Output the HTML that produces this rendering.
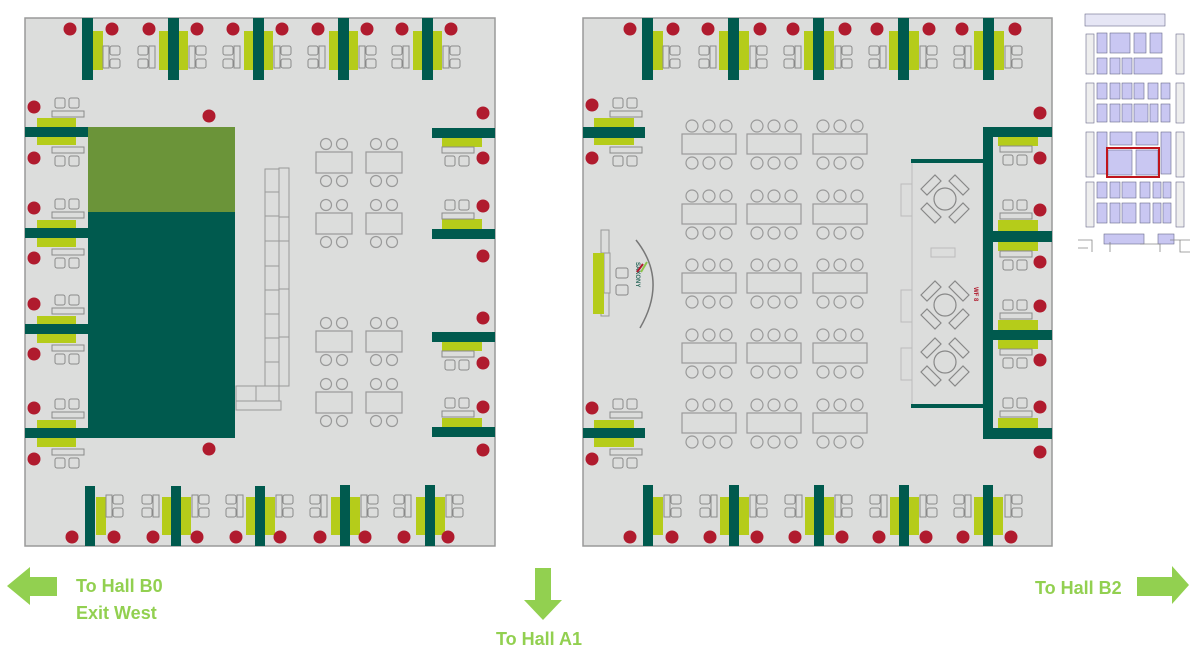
<!DOCTYPE html>
<html><head><meta charset="utf-8"><style>
html,body{margin:0;padding:0;background:#fff;width:1200px;height:655px;overflow:hidden}
svg{display:block}
.t{font-family:"Liberation Sans",sans-serif;font-weight:bold;font-size:18px;fill:#92d050}
</style></head><body>
<svg width="1200" height="655" viewBox="0 0 1200 655" xmlns="http://www.w3.org/2000/svg">
<defs>
 <g id="chR" fill="none" stroke="#8a8a8a" stroke-width="1">
  <rect x="0" y="0" width="6" height="22"/>
  <rect x="7" y="0" width="10" height="9" rx="2"/>
  <rect x="7" y="13" width="10" height="9" rx="2"/>
 </g>
 <g id="chL" fill="none" stroke="#8a8a8a" stroke-width="1">
  <rect x="11" y="0" width="6" height="22"/>
  <rect x="0" y="0" width="10" height="9" rx="2"/>
  <rect x="0" y="13" width="10" height="9" rx="2"/>
 </g>
 <g id="chD" fill="none" stroke="#8a8a8a" stroke-width="1">
  <rect x="0" y="0" width="32" height="6"/>
  <rect x="3" y="9" width="10" height="10" rx="2"/>
  <rect x="17" y="9" width="10" height="10" rx="2"/>
 </g>
 <g id="chU" fill="none" stroke="#8a8a8a" stroke-width="1">
  <rect x="3" y="0" width="10" height="10" rx="2"/>
  <rect x="17" y="0" width="10" height="10" rx="2"/>
  <rect x="0" y="13" width="32" height="6"/>
 </g>
 <g id="t4" fill="none" stroke="#999" stroke-width="1.2">
  <rect x="0" y="0" width="36" height="21"/>
  <circle cx="10" cy="-8" r="5.5"/><circle cx="26" cy="-8" r="5.5"/>
  <circle cx="10" cy="29" r="5.5"/><circle cx="26" cy="29" r="5.5"/>
 </g>
 <g id="t6" fill="none" stroke="#999" stroke-width="1.2">
  <rect x="0" y="0" width="54" height="20"/>
  <circle cx="10" cy="-8" r="6"/><circle cx="27" cy="-8" r="6"/><circle cx="44" cy="-8" r="6"/>
  <circle cx="10" cy="29" r="6"/><circle cx="27" cy="29" r="6"/><circle cx="44" cy="29" r="6"/>
 </g>
 <g id="x4" fill="none" stroke="#888" stroke-width="1.2">
  <circle cx="0" cy="0" r="11"/>
  <path d="M-24 -10 L-10 -24 L-4 -18 L-18 -4 Z"/>
  <path d="M24 -10 L10 -24 L4 -18 L18 -4 Z"/>
  <path d="M-24 10 L-10 24 L-4 18 L-18 4 Z"/>
  <path d="M24 10 L10 24 L4 18 L18 4 Z"/>
 </g>
 <circle id="rd" r="6.5" fill="#b01b2e"/>
</defs>

<!-- LEFT HALL -->
<rect x="25" y="18" width="470" height="528" fill="#dcdddc" stroke="#9a9a9a" stroke-width="1.5"/>
<!-- top booths -->
<g>
 <rect x="93" y="31" width="10" height="39" fill="#b5cc1a"/>
 <rect x="159" y="31" width="29" height="39" fill="#b5cc1a"/>
 <rect x="244" y="31" width="29" height="39" fill="#b5cc1a"/>
 <rect x="329" y="31" width="29" height="39" fill="#b5cc1a"/>
 <rect x="413" y="31" width="29" height="39" fill="#b5cc1a"/>
 <rect x="82" y="18" width="11" height="62" fill="#005a4e"/>
 <rect x="168" y="18" width="11" height="62" fill="#005a4e"/>
 <rect x="253" y="18" width="11" height="62" fill="#005a4e"/>
 <rect x="338" y="18" width="11" height="62" fill="#005a4e"/>
 <rect x="422" y="18" width="11" height="62" fill="#005a4e"/>
 <use href="#chR" x="103" y="46"/><use href="#chL" x="138" y="46"/><use href="#chR" x="189" y="46"/>
 <use href="#chL" x="223" y="46"/><use href="#chR" x="274" y="46"/><use href="#chL" x="308" y="46"/>
 <use href="#chR" x="359" y="46"/><use href="#chL" x="392" y="46"/><use href="#chR" x="443" y="46"/>
 <use href="#rd" x="70" y="29"/><use href="#rd" x="112" y="29"/><use href="#rd" x="149" y="29"/>
 <use href="#rd" x="197" y="29"/><use href="#rd" x="233" y="29"/><use href="#rd" x="282" y="29"/>
 <use href="#rd" x="318" y="29"/><use href="#rd" x="367" y="29"/><use href="#rd" x="402" y="29"/>
 <use href="#rd" x="451" y="29"/>
</g>
<!-- left side booths -->
<g>
 <rect x="37" y="118" width="39" height="27" fill="#b5cc1a"/>
 <rect x="37" y="220" width="39" height="27" fill="#b5cc1a"/>
 <rect x="37" y="316" width="39" height="27" fill="#b5cc1a"/>
 <rect x="37" y="420" width="39" height="27" fill="#b5cc1a"/>
 <rect x="25" y="127" width="63" height="10" fill="#005a4e"/>
 <rect x="25" y="228" width="63" height="10" fill="#005a4e"/>
 <rect x="25" y="324" width="63" height="10" fill="#005a4e"/>
 <rect x="25" y="428" width="63" height="10" fill="#005a4e"/>
 <use href="#chU" x="52" y="98"/><use href="#chD" x="52" y="147"/>
 <use href="#chU" x="52" y="199"/><use href="#chD" x="52" y="249"/>
 <use href="#chU" x="52" y="295"/><use href="#chD" x="52" y="345"/>
 <use href="#chU" x="52" y="399"/><use href="#chD" x="52" y="449"/>
 <use href="#rd" x="34" y="107"/><use href="#rd" x="34" y="158"/>
 <use href="#rd" x="34" y="208"/><use href="#rd" x="34" y="258"/>
 <use href="#rd" x="34" y="304"/><use href="#rd" x="34" y="354"/>
 <use href="#rd" x="34" y="408"/><use href="#rd" x="34" y="459"/>
</g>
<!-- right side booths -->
<g>
 <rect x="442" y="138" width="40" height="9" fill="#b5cc1a"/>
 <rect x="442" y="219" width="40" height="10" fill="#b5cc1a"/>
 <rect x="442" y="342" width="40" height="9" fill="#b5cc1a"/>
 <rect x="442" y="418" width="40" height="10" fill="#b5cc1a"/>
 <rect x="432" y="128" width="63" height="10" fill="#005a4e"/>
 <rect x="432" y="229" width="63" height="10" fill="#005a4e"/>
 <rect x="432" y="332" width="63" height="10" fill="#005a4e"/>
 <rect x="432" y="427" width="63" height="10" fill="#005a4e"/>
 <use href="#chD" x="442" y="147"/><use href="#chU" x="442" y="200"/>
 <use href="#chD" x="442" y="351"/><use href="#chU" x="442" y="398"/>
 <use href="#rd" x="483" y="113"/><use href="#rd" x="483" y="158"/>
 <use href="#rd" x="483" y="206"/><use href="#rd" x="483" y="256"/>
 <use href="#rd" x="483" y="318"/><use href="#rd" x="483" y="363"/>
 <use href="#rd" x="483" y="407"/><use href="#rd" x="483" y="450"/>
</g>
<!-- bottom booths -->
<g>
 <rect x="96" y="497" width="10" height="38" fill="#b5cc1a"/>
 <rect x="162" y="497" width="29" height="38" fill="#b5cc1a"/>
 <rect x="246" y="497" width="29" height="38" fill="#b5cc1a"/>
 <rect x="331" y="497" width="29" height="38" fill="#b5cc1a"/>
 <rect x="416" y="497" width="29" height="38" fill="#b5cc1a"/>
 <rect x="85" y="486" width="10" height="60" fill="#005a4e"/>
 <rect x="171" y="486" width="10" height="60" fill="#005a4e"/>
 <rect x="255" y="486" width="10" height="60" fill="#005a4e"/>
 <rect x="340" y="485" width="10" height="61" fill="#005a4e"/>
 <rect x="425" y="485" width="10" height="61" fill="#005a4e"/>
 <use href="#chR" x="106" y="495"/><use href="#chL" x="142" y="495"/><use href="#chR" x="192" y="495"/>
 <use href="#chL" x="226" y="495"/><use href="#chR" x="276" y="495"/><use href="#chL" x="310" y="495"/>
 <use href="#chR" x="361" y="495"/><use href="#chL" x="394" y="495"/><use href="#chR" x="446" y="495"/>
 <use href="#rd" x="72" y="537"/><use href="#rd" x="114" y="537"/><use href="#rd" x="153" y="537"/>
 <use href="#rd" x="197" y="537"/><use href="#rd" x="236" y="537"/><use href="#rd" x="280" y="537"/>
 <use href="#rd" x="320" y="537"/><use href="#rd" x="365" y="537"/><use href="#rd" x="404" y="537"/>
 <use href="#rd" x="448" y="537"/>
</g>
<!-- big block -->
<rect x="88" y="127" width="147" height="86" fill="#6b9439"/>
<rect x="88" y="212" width="147" height="226" fill="#005a4e"/>
<use href="#rd" x="209" y="116"/><use href="#rd" x="209" y="449"/>
<!-- counter -->
<g fill="none" stroke="#999" stroke-width="1">
 <rect x="265" y="169" width="14" height="23"/><rect x="265" y="192" width="14" height="24"/>
 <rect x="265" y="216" width="14" height="25"/><rect x="265" y="241" width="14" height="25"/>
 <rect x="265" y="266" width="14" height="24"/><rect x="265" y="290" width="14" height="24"/>
 <rect x="265" y="314" width="14" height="24"/><rect x="265" y="338" width="14" height="24"/>
 <rect x="265" y="362" width="14" height="24"/>
 <rect x="279" y="168" width="10" height="49"/><rect x="279" y="217" width="10" height="24"/>
 <rect x="279" y="241" width="10" height="48"/><rect x="279" y="289" width="10" height="48"/>
 <rect x="279" y="337" width="10" height="49"/>
 <rect x="236" y="386" width="20" height="15"/><rect x="256" y="386" width="23" height="15"/>
 <rect x="236" y="401" width="45" height="9"/>
</g>
<use href="#t4" x="316" y="152"/><use href="#t4" x="366" y="152"/>
<use href="#t4" x="316" y="213"/><use href="#t4" x="366" y="213"/>
<use href="#t4" x="316" y="331"/><use href="#t4" x="366" y="331"/>
<use href="#t4" x="316" y="392"/><use href="#t4" x="366" y="392"/>

<!-- RIGHT HALL -->
<rect x="583" y="18" width="469" height="528" fill="#dcdddc" stroke="#9a9a9a" stroke-width="1.5"/>
<g>
 <rect x="653" y="31" width="10" height="39" fill="#b5cc1a"/>
 <rect x="719" y="31" width="30" height="39" fill="#b5cc1a"/>
 <rect x="804" y="31" width="30" height="39" fill="#b5cc1a"/>
 <rect x="889" y="31" width="30" height="39" fill="#b5cc1a"/>
 <rect x="974" y="31" width="30" height="39" fill="#b5cc1a"/>
 <rect x="642" y="18" width="11" height="62" fill="#005a4e"/>
 <rect x="728" y="18" width="11" height="62" fill="#005a4e"/>
 <rect x="813" y="18" width="11" height="62" fill="#005a4e"/>
 <rect x="898" y="18" width="11" height="62" fill="#005a4e"/>
 <rect x="983" y="18" width="11" height="62" fill="#005a4e"/>
 <use href="#chR" x="663" y="46"/><use href="#chL" x="699" y="46"/><use href="#chR" x="750" y="46"/>
 <use href="#chL" x="784" y="46"/><use href="#chR" x="835" y="46"/><use href="#chL" x="869" y="46"/>
 <use href="#chR" x="920" y="46"/><use href="#chL" x="954" y="46"/><use href="#chR" x="1005" y="46"/>
 <use href="#rd" x="630" y="29"/><use href="#rd" x="673" y="29"/><use href="#rd" x="708" y="29"/>
 <use href="#rd" x="760" y="29"/><use href="#rd" x="793" y="29"/><use href="#rd" x="845" y="29"/>
 <use href="#rd" x="877" y="29"/><use href="#rd" x="929" y="29"/><use href="#rd" x="962" y="29"/>
 <use href="#rd" x="1015" y="29"/>
</g>
<!-- right hall left side -->
<g>
 <rect x="594" y="118" width="40" height="27" fill="#b5cc1a"/>
 <rect x="594" y="420" width="40" height="27" fill="#b5cc1a"/>
 <rect x="583" y="127" width="62" height="11" fill="#005a4e"/>
 <rect x="583" y="428" width="62" height="10" fill="#005a4e"/>
 <use href="#chU" x="610" y="98"/><use href="#chD" x="610" y="147"/>
 <use href="#chU" x="610" y="399"/><use href="#chD" x="610" y="449"/>
 <use href="#rd" x="592" y="105"/><use href="#rd" x="592" y="158"/>
 <use href="#rd" x="592" y="408"/><use href="#rd" x="592" y="459"/>
 <!-- info counter -->
 <g fill="none" stroke="#999"><rect x="601" y="230" width="8" height="23"/><rect x="601" y="293" width="8" height="23"/><rect x="604" y="253" width="6" height="40"/></g>
 <rect x="593" y="253" width="11" height="61" fill="#b5cc1a"/>
 <rect x="616" y="268" width="12" height="10" rx="2" fill="none" stroke="#888"/>
 <rect x="616" y="285" width="12" height="10" rx="2" fill="none" stroke="#888"/>
 <path d="M636 240 Q668 280 640 328" fill="none" stroke="#777" stroke-width="1.5"/>
 <text x="0" y="0" transform="translate(636 262) rotate(90)" font-family="Liberation Sans,sans-serif" font-size="6" font-weight="bold" fill="#2e6b5e">SAXONY</text>
 <path d="M637 272 l6 -8" stroke="#b01b2e" stroke-width="2"/><path d="M641 272 l6 -10" stroke="#8bc34a" stroke-width="2"/>
</g>
<!-- tables -->
<use href="#t6" x="682" y="134"/><use href="#t6" x="747" y="134"/><use href="#t6" x="813" y="134"/>
<use href="#t6" x="682" y="204"/><use href="#t6" x="747" y="204"/><use href="#t6" x="813" y="204"/>
<use href="#t6" x="682" y="273"/><use href="#t6" x="747" y="273"/><use href="#t6" x="813" y="273"/>
<use href="#t6" x="682" y="343"/><use href="#t6" x="747" y="343"/><use href="#t6" x="813" y="343"/>
<use href="#t6" x="682" y="413"/><use href="#t6" x="747" y="413"/><use href="#t6" x="813" y="413"/>
<!-- lounge area -->
<rect x="912" y="161" width="71" height="245" fill="none" stroke="#bbb"/>
<rect x="911" y="159" width="72" height="4" fill="#005a4e"/>
<rect x="911" y="404" width="72" height="4" fill="#005a4e"/>
<g fill="none" stroke="#bbb"><rect x="901" y="184" width="11" height="32"/><rect x="901" y="290" width="11" height="32"/><rect x="901" y="348" width="11" height="32"/><rect x="931" y="248" width="24" height="9"/></g>
<use href="#x4" x="945" y="199"/><use href="#x4" x="945" y="305"/><use href="#x4" x="945" y="362"/>
<text x="0" y="0" transform="translate(974 287) rotate(90)" font-family="Liberation Sans,sans-serif" font-size="6" font-weight="bold" fill="#b01b2e">WF 8</text>
<!-- right side structure -->
<g>
 <rect x="998" y="137" width="40" height="9" fill="#b5cc1a"/>
 <rect x="998" y="220" width="40" height="11" fill="#b5cc1a"/>
 <rect x="998" y="242" width="40" height="9" fill="#b5cc1a"/>
 <rect x="998" y="320" width="40" height="10" fill="#b5cc1a"/>
 <rect x="998" y="340" width="40" height="9" fill="#b5cc1a"/>
 <rect x="998" y="418" width="40" height="10" fill="#b5cc1a"/>
 <rect x="983" y="127" width="69" height="10" fill="#005a4e"/>
 <rect x="983" y="127" width="10" height="312" fill="#005a4e"/>
 <rect x="983" y="231" width="69" height="11" fill="#005a4e"/>
 <rect x="983" y="330" width="69" height="10" fill="#005a4e"/>
 <rect x="983" y="428" width="69" height="11" fill="#005a4e"/>
 <use href="#chD" x="1000" y="146"/><use href="#chU" x="1000" y="200"/>
 <use href="#chD" x="1000" y="251"/><use href="#chU" x="1000" y="300"/>
 <use href="#chD" x="1000" y="349"/><use href="#chU" x="1000" y="398"/>
 <use href="#rd" x="1040" y="113"/><use href="#rd" x="1040" y="158"/>
 <use href="#rd" x="1040" y="210"/><use href="#rd" x="1040" y="262"/>
 <use href="#rd" x="1040" y="306"/><use href="#rd" x="1040" y="360"/>
 <use href="#rd" x="1040" y="407"/><use href="#rd" x="1040" y="452"/>
</g>
<!-- right hall bottom -->
<g>
 <rect x="653" y="497" width="10" height="38" fill="#b5cc1a"/>
 <rect x="720" y="497" width="29" height="38" fill="#b5cc1a"/>
 <rect x="805" y="497" width="29" height="38" fill="#b5cc1a"/>
 <rect x="890" y="497" width="29" height="38" fill="#b5cc1a"/>
 <rect x="974" y="497" width="29" height="38" fill="#b5cc1a"/>
 <rect x="643" y="485" width="10" height="61" fill="#005a4e"/>
 <rect x="729" y="485" width="10" height="61" fill="#005a4e"/>
 <rect x="814" y="485" width="10" height="61" fill="#005a4e"/>
 <rect x="899" y="485" width="10" height="61" fill="#005a4e"/>
 <rect x="983" y="485" width="10" height="61" fill="#005a4e"/>
 <use href="#chR" x="664" y="495"/><use href="#chL" x="700" y="495"/><use href="#chR" x="750" y="495"/>
 <use href="#chL" x="785" y="495"/><use href="#chR" x="835" y="495"/><use href="#chL" x="870" y="495"/>
 <use href="#chR" x="920" y="495"/><use href="#chL" x="954" y="495"/><use href="#chR" x="1005" y="495"/>
 <use href="#rd" x="630" y="537"/><use href="#rd" x="672" y="537"/><use href="#rd" x="710" y="537"/>
 <use href="#rd" x="757" y="537"/><use href="#rd" x="795" y="537"/><use href="#rd" x="842" y="537"/>
 <use href="#rd" x="879" y="537"/><use href="#rd" x="926" y="537"/><use href="#rd" x="963" y="537"/>
 <use href="#rd" x="1011" y="537"/>
</g>

<!-- MINIMAP -->
<g stroke="#6b6b8a" stroke-width="0.6" fill="#c9c7f2">
 <rect x="1085" y="14" width="80" height="12" fill="#e6e6f5"/>
 <rect x="1086" y="34" width="8" height="40" fill="#eee"/><rect x="1176" y="34" width="8" height="40" fill="#eee"/>
 <rect x="1097" y="33" width="10" height="20"/><rect x="1110" y="33" width="20" height="20"/><rect x="1134" y="33" width="12" height="20"/><rect x="1150" y="33" width="12" height="20"/>
 <rect x="1097" y="58" width="10" height="16"/><rect x="1110" y="58" width="10" height="16"/><rect x="1122" y="58" width="10" height="16"/><rect x="1134" y="58" width="28" height="16"/>
 <rect x="1086" y="83" width="8" height="40" fill="#eee"/><rect x="1176" y="83" width="8" height="40" fill="#eee"/>
 <rect x="1097" y="83" width="10" height="16"/><rect x="1110" y="83" width="10" height="16"/><rect x="1122" y="83" width="10" height="16"/><rect x="1134" y="83" width="10" height="16"/><rect x="1148" y="83" width="10" height="16"/><rect x="1161" y="83" width="9" height="16"/>
 <rect x="1097" y="104" width="10" height="18"/><rect x="1110" y="104" width="10" height="18"/><rect x="1122" y="104" width="10" height="18"/><rect x="1134" y="104" width="14" height="18"/><rect x="1150" y="104" width="8" height="18"/><rect x="1161" y="104" width="9" height="18"/>
 <rect x="1086" y="132" width="8" height="45" fill="#eee"/><rect x="1176" y="132" width="8" height="45" fill="#eee"/>
 <rect x="1097" y="132" width="10" height="42"/><rect x="1110" y="132" width="22" height="13"/><rect x="1136" y="132" width="22" height="13"/><rect x="1161" y="132" width="10" height="42"/>
 <rect x="1108" y="150" width="24" height="25"/><rect x="1136" y="150" width="22" height="25"/>
 <rect x="1086" y="182" width="8" height="45" fill="#eee"/><rect x="1176" y="182" width="8" height="45" fill="#eee"/>
 <rect x="1097" y="182" width="10" height="16"/><rect x="1110" y="182" width="10" height="16"/><rect x="1122" y="182" width="14" height="16"/><rect x="1140" y="182" width="10" height="16"/><rect x="1153" y="182" width="8" height="16"/><rect x="1163" y="182" width="8" height="16"/>
 <rect x="1097" y="203" width="10" height="20"/><rect x="1110" y="203" width="10" height="20"/><rect x="1122" y="203" width="14" height="20"/><rect x="1140" y="203" width="10" height="20"/><rect x="1153" y="203" width="8" height="20"/><rect x="1163" y="203" width="8" height="20"/>
 <rect x="1104" y="234" width="40" height="10"/><rect x="1158" y="234" width="16" height="10"/>
</g>
<g fill="none" stroke="#888" stroke-width="0.8"><path d="M1078 240 h14 v12 M1078 248 h10 M1110 242 v10 M1140 244 h20 v8 M1170 240 h20 M1180 240 v12 h10"/></g>
<rect x="1107" y="148" width="52" height="29" fill="none" stroke="#c0141c" stroke-width="2"/>

<!-- ARROWS -->
<polygon points="7,586 30,567 30,577 57,577 57,596 30,596 30,605" fill="#92d050"/>
<polygon points="535,568 551,568 551,600 562,600 543,620 524,600 535,600" fill="#92d050"/>
<polygon points="1137,577 1172,577 1172,566 1189,585 1172,604 1172,596 1137,596" fill="#92d050"/>
<text class="t" x="76" y="592">To Hall B0</text>
<text class="t" x="76" y="619">Exit West</text>
<text class="t" x="496" y="645">To Hall A1</text>
<text class="t" x="1035" y="594">To Hall B2</text>
</svg>
</body></html>
